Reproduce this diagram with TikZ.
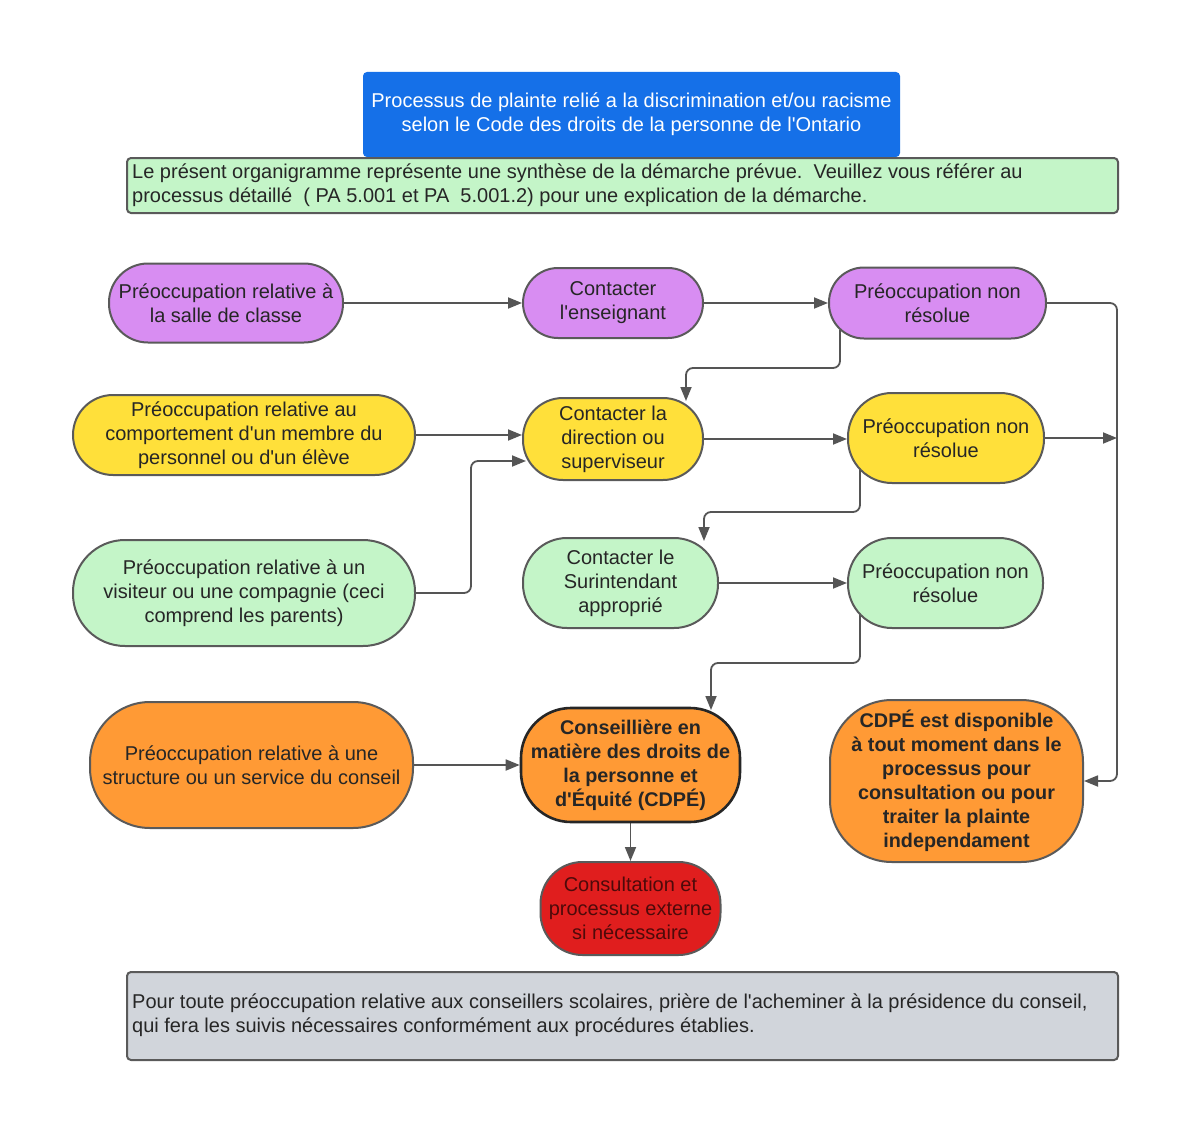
\documentclass[tikz,border=0pt]{standalone}
\usepackage{fontspec}
\newfontfamily\lsans{Liberation Sans}
\usetikzlibrary{arrows.meta,backgrounds}
\definecolor{cpurple}{HTML}{D88DF2}
\definecolor{cyellow}{HTML}{FFE03A}
\definecolor{cgreen}{HTML}{C4F5C8}
\definecolor{corange}{HTML}{FF9A35}
\definecolor{cred}{HTML}{E01E1E}
\definecolor{cblue}{HTML}{1570E8}
\definecolor{cgray}{HTML}{D1D5DB}
\definecolor{cline}{HTML}{555555}
\definecolor{cborder}{HTML}{5A5A5A}
\tikzset{
  pill/.style={draw=cborder, line width=2pt, align=center, inner sep=0pt,
    font=\lsans\fontsize{20}{24}\selectfont, text=black!85},
  boldtxt/.style={font=\lsans\bfseries\fontsize{19.8}{24}\selectfont},
  notebox/.style={draw=cborder, line width=2pt, rounded corners=4pt, inner sep=0pt},
  notetext/.style={anchor=west, align=left, inner sep=0pt,
    font=\lsans\fontsize{20}{24}\selectfont, text=black!85},
  arr/.style={draw=cline, line width=1.8pt, rounded corners=7pt,
    -{Triangle[length=14pt,width=11pt]}},
}
\begin{document}
\begin{tikzpicture}[x=1pt,y=-1pt]
\useasboundingbox (0,0) rectangle (1200,1132);

% title
\node[fill=cblue, rounded corners=4pt, minimum width=537, minimum height=85, inner sep=0pt,
  align=center, text=white, font=\lsans\fontsize{20}{24}\selectfont] (title) at (631.5,114.5)
  {Processus de plainte relié a la discrimination et/ou racisme\\selon le Code des droits de la personne de l'Ontario};

% green note
\node[notebox, fill=cgreen, minimum width=991, minimum height=55] (note1) at (622.5,185.5) {};
\node[notetext] (note1t) at (132,185.5)
  {Le présent organigramme représente une synthèse de la démarche prévue.\ \ Veuillez vous référer au\\processus détaillé\ \ ( PA 5.001 et PA\ \ 5.001.2) pour une explication de la démarche.};

% row A (purple)
\node[pill, fill=cpurple, minimum width=234, minimum height=79, rounded corners=39] (a1) at (226,303)
  {Préoccupation relative à\\la salle de classe};
\node[pill, fill=cpurple, minimum width=180, minimum height=70, rounded corners=35] (a2) at (613,303)
  {Contacter\\l'enseignant};
\node[pill, fill=cpurple, minimum width=217, minimum height=71, rounded corners=35] (a3) at (937.5,303)
  {Préoccupation non\\résolue};

% row B (yellow)
\node[pill, fill=cyellow, minimum width=342, minimum height=80, rounded corners=40] (b1) at (244,435)
  {Préoccupation relative au\\comportement d'un membre du\\personnel ou d'un élève};
\node[pill, fill=cyellow, minimum width=180, minimum height=82, rounded corners=40] (b2) at (613,439)
  {Contacter la\\direction ou\\superviseur};
\node[pill, fill=cyellow, minimum width=196, minimum height=90, rounded corners=44] (b3) at (946,438)
  {Préoccupation non\\résolue};

% row C (green)
\node[pill, fill=cgreen, minimum width=342, minimum height=106, rounded corners=52] (c1) at (244,593)
  {Préoccupation relative à un\\visiteur ou une compagnie (ceci\\comprend les parents)};
\node[pill, fill=cgreen, minimum width=195, minimum height=90, rounded corners=44] (c2) at (620.5,583)
  {Contacter le\\Surintendant\\approprié};
\node[pill, fill=cgreen, minimum width=195, minimum height=90, rounded corners=44] (c3) at (945.5,583)
  {Préoccupation non\\résolue};

% row D (orange)
\node[pill, fill=corange, minimum width=323, minimum height=126, rounded corners=60] (d1) at (251.5,765)
  {Préoccupation relative à une\\structure ou un service du conseil};
\node[pill, boldtxt, fill=corange, draw=black!85, line width=2.6pt, minimum width=219, minimum height=114,
  rounded corners=50] (d2) at (630.5,765)
  {Conseillière en\\matière des droits de\\la personne et\\d'Équité (CDPÉ)};
\node[pill, boldtxt, fill=corange, minimum width=253, minimum height=162, rounded corners=62] (d3) at (956.5,781)
  {CDPÉ est disponible\\à tout moment dans le\\processus pour\\consultation ou pour\\traiter la plainte\\independament};

% red
\node[pill, fill=cred, minimum width=180, minimum height=93, rounded corners=42, text=black!65!cred] (e) at (630.5,908.5)
  {Consultation et\\processus externe\\si nécessaire};

% gray note
\node[notebox, fill=cgray, minimum width=991, minimum height=88] (note2) at (622.5,1016) {};
\node[notetext] (note2t) at (132,1015)
  {Pour toute préoccupation relative aux conseillers scolaires, prière de l'acheminer à la présidence du conseil,\\qui fera les suivis nécessaires conformément aux procédures établies.};

% connectors
\coordinate (rx) at (1117,0);
\coordinate (a3s) at (840,330);
\coordinate (b3s) at (860,470);
\coordinate (c3s) at (860,615);
\coordinate (b2in) at (526,461);
\begin{scope}[on background layer]
\fill[white] (0,0) rectangle (1200,1132);
\draw[arr] (a1.east) -- (a1.east -| a2.west);
\draw[arr] (a2.east) -- (a2.east -| a3.west);
\draw[arr] (a3.east) -- (rx |- a3.east) -- (rx |- d3.east) -- (d3.east);
\draw[arr] (b3.east) -- (rx |- b3.east);
\draw[arr] (a3s) -- (840,368) -- (686,368) -- (686,401);
\draw[arr] (b1.east) -- (b1.east -| b2.west);
\draw[arr] (c1.east) -- (471,593) -- (471,461) -- (b2in);
\draw[arr] (b2.east) -- (b2.east -| b3.west);
\draw[arr] (b3s) -- (860,512) -- (704,512) -- (704,541);
\draw[arr] (c2.east) -- (c2.east -| c3.west);
\draw[arr] (c3s) -- (860,663) -- (711,663) -- (711,710);
\draw[arr] (d1.east) -- (d1.east -| d2.west);
\draw[arr] (d2.south) -- (e.north);
\end{scope}
\end{tikzpicture}
\end{document}
